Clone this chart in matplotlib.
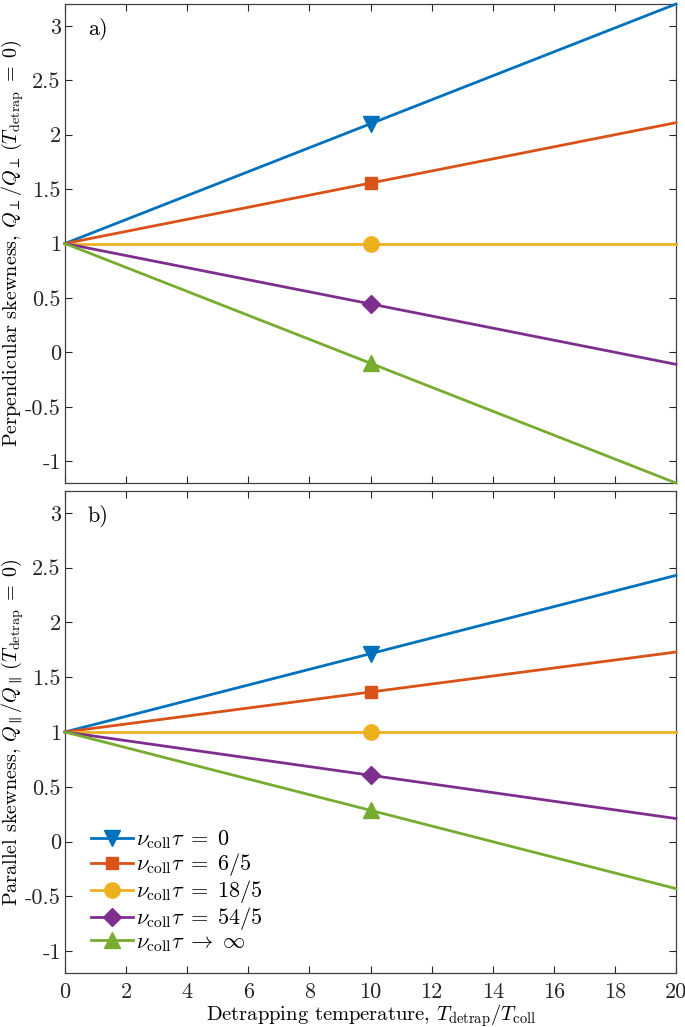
import matplotlib
matplotlib.use("Agg")
import matplotlib.pyplot as plt
import numpy as np

plt.rcParams["font.family"] = "serif"
plt.rcParams["font.serif"] = ["cmr10", "DejaVu Serif"]
plt.rcParams["mathtext.fontset"] = "cm"
plt.rcParams["axes.formatter.use_mathtext"] = True

# detrapping temperature samples (straight lines, endpoints + marker point)
T = [0, 10, 20]

# a) perpendicular skewness
perp = [
    [1, 2.10, 3.20],
    [1, 1.555, 2.11],
    [1, 1.00, 1.00],
    [1, 0.445, -0.11],
    [1, -0.10, -1.20],
]
# b) parallel skewness
para = [
    [1, 1.715, 2.43],
    [1, 1.365, 1.73],
    [1, 1.00, 1.00],
    [1, 0.605, 0.21],
    [1, 0.285, -0.43],
]

labels = [r"$\nu_\mathrm{coll}\tau\;=\;0$", r"$\nu_\mathrm{coll}\tau\;=\;6/5$",
          r"$\nu_\mathrm{coll}\tau\;=\;18/5$", r"$\nu_\mathrm{coll}\tau\;=\;54/5$",
          r"$\nu_\mathrm{coll}\tau\;\rightarrow\;\infty$"]
colors = ["#0072BD", "#D95319", "#EDB120", "#7E2F8E", "#77AC30"]
markers = ["v", "s", "o", "D", "^"]
msizes = [12, 9, 11, 9, 12]

yticks = [-1, -0.5, 0, 0.5, 1, 1.5, 2, 2.5, 3]
yticklabels = ["-1", "-0.5", "0", "0.5", "1", "1.5", "2", "2.5", "3"]
xticks = list(range(0, 21, 2))

fig = plt.figure(figsize=(6.85, 10.27), dpi=100)
ax1 = fig.add_axes([65/685, 1-483/1027, 611/685, 479/1027])
ax2 = fig.add_axes([65/685, 1-973/1027, 611/685, 482/1027])

for ax, data, tag in [(ax1, perp, "a)"), (ax2, para, "b)")]:
    for i in range(5):
        ax.plot(T, data[i], color=colors[i], lw=2, marker=markers[i],
                markersize=msizes[i], markevery=[1], label=labels[i],
                clip_on=False, zorder=3)
    ax.set_xlim(0, 20)
    ax.set_ylim(-1.2, 3.2)
    ax.set_xticks(xticks)
    ax.set_yticks(yticks)
    ax.set_yticklabels(yticklabels)
    ax.tick_params(direction="in", top=True, right=True, length=5,
                   width=0.8, labelsize=16, colors="0.15")
    ax.tick_params(axis="y", pad=3)
    ax.tick_params(axis="x", pad=7)
    for s in ax.spines.values():
        s.set_color("0.25")
        s.set_linewidth(0.9)
    ax.text(0.75, 2.97, tag, fontsize=16, va="center", ha="left")

ax1.set_xticklabels([])
ax2.set_xticklabels([str(x) for x in xticks])

ax1.set_ylabel(r"Perpendicular skewness, $Q_\perp/Q_\perp\,(T_\mathrm{detrap}\;=\;0)$",
               fontsize=14.5)
ax2.set_ylabel(r"Parallel skewness, $Q_\parallel/Q_\parallel\,(T_\mathrm{detrap}\;=\;0)$",
               fontsize=14.5)
for ax in (ax1, ax2):
    ax.yaxis.set_label_coords(-0.064, 0.5)
ax2.set_xlabel(r"Detrapping temperature, $T_\mathrm{detrap}/T_\mathrm{coll}$",
               fontsize=14.8, labelpad=0)

ax2.legend(loc="lower left", bbox_to_anchor=(0.042, 0.04), frameon=False,
           fontsize=16, handlelength=1.9, handletextpad=0.15,
           labelspacing=0.0, borderaxespad=0, borderpad=0)

fig.savefig("out.png", dpi=100)
